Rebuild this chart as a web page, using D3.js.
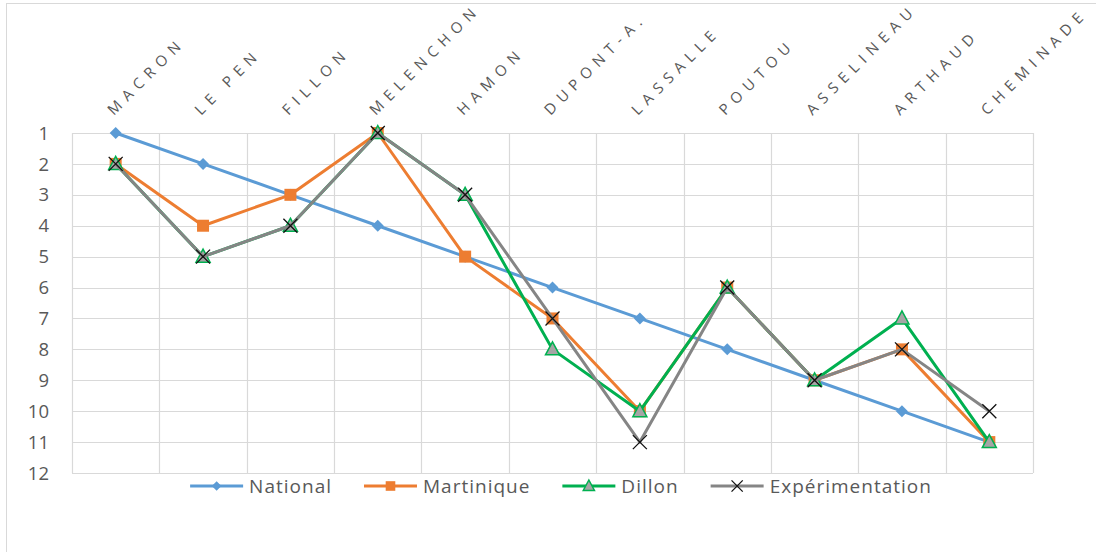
<!DOCTYPE html>
<html>
<head>
<meta charset="utf-8">
<script src="https://cdn.jsdelivr.net/npm/d3@7"></script>
<style>
  body { margin: 0; background: #fff; }
  svg { display: block; }
  .grid line { stroke: #d9d9d9; stroke-width: 1.2; }
  .lbl { font-family: "Open Sans", sans-serif; fill: #595959; }
</style>
</head>
<body>
<svg id="chart" width="1096" height="552"></svg>
<script>
const categories = ["MACRON", "LE PEN", "FILLON", "MELENCHON", "HAMON", "DUPONT-A.",
  "LASSALLE", "POUTOU", "ASSELINEAU", "ARTHAUD", "CHEMINADE"];
const national = [1, 2, 3, 4, 5, 6, 7, 8, 9, 10, 11];
const martinique = [2, 4, 3, 1, 5, 7, 10, 6, 9, 8, 11];
const dillon = [2, 5, 4, 1, 3, 8, 10, 6, 9, 7, 11];
const experimentation = [2, 5, 4, 1, 3, 7, 11, 6, 9, 8, 10];
const yTicks = [1, 2, 3, 4, 5, 6, 7, 8, 9, 10, 11, 12];

const series = [
  { name: "National", values: national, color: "#5b9bd5", marker: "diamond" },
  { name: "Martinique", values: martinique, color: "#ed7d31", marker: "square" },
  { name: "Dillon", values: dillon, color: "#00b050", marker: "triangle" },
  { name: "Expérimentation", values: experimentation, color: "#858585", marker: "cross" }
];

const svg = d3.select("#chart");
const plot = { left: 72, right: 1033, top: 133, bottom: 473 };

// outer chart frame
svg.append("rect")
  .attr("x", 6.5).attr("y", 3.5)
  .attr("width", 1200).attr("height", 700)
  .attr("fill", "none").attr("stroke", "#d9d9d9");

const x = d3.scaleBand().domain(categories).range([plot.left, plot.right]);
const y = d3.scaleLinear().domain([1, 12]).range([plot.top, plot.bottom]);

// grid
const grid = svg.append("g").attr("class", "grid");
grid.selectAll("line.h")
  .data(yTicks)
  .join("line")
  .attr("class", "h")
  .attr("x1", plot.left).attr("x2", plot.right)
  .attr("y1", d => Math.round(y(d)) + 0.5).attr("y2", d => Math.round(y(d)) + 0.5);
grid.selectAll("line.v")
  .data([plot.left].concat(categories.map(c => x(c) + x.bandwidth())))
  .join("line")
  .attr("class", "v")
  .attr("x1", d => Math.round(d) + 0.5).attr("x2", d => Math.round(d) + 0.5)
  .attr("y1", plot.top).attr("y2", plot.bottom);

// y axis labels
svg.append("g")
  .selectAll("text")
  .data(yTicks)
  .join("text")
  .attr("class", "lbl")
  .attr("x", 49)
  .attr("y", d => y(d))
  .attr("dy", "0.36em")
  .attr("text-anchor", "end")
  .style("font-size", "18.5px")
  .text(d => d);

// category labels, rotated
svg.append("g")
  .selectAll("text")
  .data(categories)
  .join("text")
  .attr("class", "lbl")
  .attr("transform", d => `translate(${x(d) + x.bandwidth() / 2 - 2},116) rotate(-45)`)
  .style("font-size", "15px")
  .style("letter-spacing", "6.3px")
  .text(d => d);

const cx = i => x(categories[i]) + x.bandwidth() / 2;

function drawMarker(g, type, color, scale = 1) {
  if (type === "diamond") {
    const r = 6 * scale;
    g.append("path").attr("d", `M0,${-r}L${r},0L0,${r}L${-r},0Z`)
      .attr("fill", color);
  } else if (type === "square") {
    const r = 6 * scale;
    g.append("rect").attr("x", -r).attr("y", -r).attr("width", 2 * r).attr("height", 2 * r)
      .attr("fill", color);
  } else if (type === "triangle") {
    const r = scale;
    g.append("path").attr("d", `M0,${-7.5 * r}L${7 * r},${5.5 * r}L${-7 * r},${5.5 * r}Z`)
      .attr("fill", "#a5a5a5").attr("stroke", "#00b050").attr("stroke-width", 1.5);
  } else {
    const r = 7 * scale;
    g.append("path").attr("d", `M${-r},${-r}L${r},${r}M${-r},${r}L${r},${-r}`)
      .attr("stroke", "#111").attr("stroke-width", 1.3).attr("fill", "none");
  }
}

const line = d3.line().x((d, i) => cx(i)).y(d => y(d));

series.forEach(s => {
  const g = svg.append("g");
  g.append("path")
    .datum(s.values)
    .attr("d", line)
    .attr("fill", "none")
    .attr("stroke", s.color)
    .attr("stroke-width", 3)
    .attr("stroke-linejoin", "round");
  g.selectAll("g.m")
    .data(s.values)
    .join("g")
    .attr("class", "m")
    .attr("transform", (d, i) => `translate(${cx(i)},${y(d)})`)
    .each(function() { drawMarker(d3.select(this), s.marker, s.color); });
});

// legend
const legend = svg.append("g");
const items = legend.selectAll("g")
  .data(series)
  .join("g");
items.append("line")
  .attr("x1", 0).attr("x2", 53).attr("y1", 0).attr("y2", 0)
  .attr("stroke", d => d.color).attr("stroke-width", 3);
items.each(function(d) {
  const m = d3.select(this).append("g").attr("transform", "translate(26.5,0)");
  drawMarker(m, d.marker, d.color, 0.8);
});
items.append("text")
  .attr("class", "lbl")
  .attr("x", 59)
  .attr("dy", "0.36em")
  .style("font-size", "19px")
  .style("letter-spacing", "1px")
  .text(d => d.name);

let offset = 0;
const widths = [];
items.each(function() {
  widths.push(59 + this.querySelector("text").getComputedTextLength());
});
const gap = 32;
const total = d3.sum(widths) + gap * (widths.length - 1);
const startX = 561 - total / 2;
items.attr("transform", (d, i) => {
  const tx = startX + offset;
  offset += widths[i] + gap;
  return `translate(${tx},486)`;
});
</script>
</body>
</html>
